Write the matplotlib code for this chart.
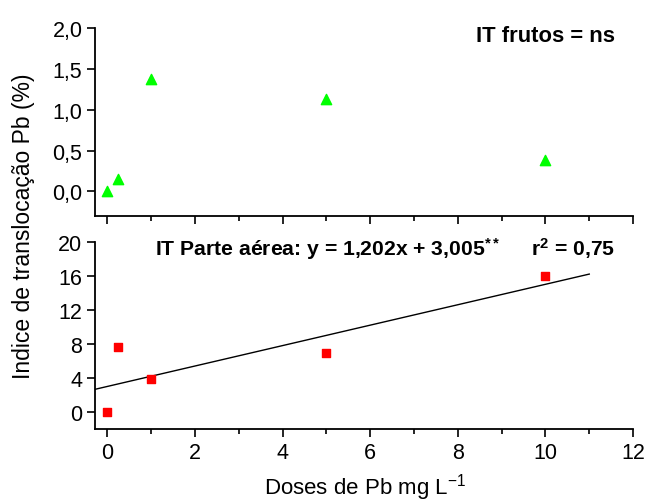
import matplotlib.pyplot as plt
from matplotlib.ticker import MultipleLocator

plt.rcParams['font.family'] = ['Liberation Sans', 'DejaVu Sans']
plt.rcParams['mathtext.default'] = 'regular'

# data
doses = [0, 0.25, 1, 5, 10]
it_frutos = [0.0, 0.15, 1.38, 1.13, 0.39]
it_parte_aerea = [0.0, 7.7, 3.9, 7.0, 16.05]
slope, intercept = 1.202, 3.005
fit_x = [-0.28, 11]

fig = plt.figure(figsize=(6.46, 5.02), dpi=100)
ax1 = fig.add_axes([0.147, 0.5677, 0.833, 0.3745])
ax2 = fig.add_axes([0.147, 0.1434, 0.833, 0.3725])

for ax in (ax1, ax2):
    ax.spines['top'].set_visible(False)
    ax.spines['right'].set_visible(False)
    for s in ('left', 'bottom'):
        ax.spines[s].set_linewidth(1.3)
    ax.set_xlim(-0.28, 12)
    ax.xaxis.set_major_locator(MultipleLocator(2))
    ax.xaxis.set_minor_locator(MultipleLocator(1))
    ax.tick_params(which='major', length=6, width=1.2, labelsize=15.5, direction='out', pad=3)
    ax.tick_params(which='minor', length=3.5, width=1.2, direction='out')

# top panel
ax1.scatter(doses, it_frutos, marker='^', s=55, color='#00ff00', zorder=3)
ax1.set_ylim(-0.3, 2.0)
ax1.yaxis.set_major_locator(MultipleLocator(0.5))
ax1.yaxis.set_major_formatter(plt.FuncFormatter(lambda v, p: f'{v:.1f}'.replace('.', ',')))
ax1.tick_params(axis='x', labelbottom=False)
ax1.text(0.966, 0.96, 'IT frutos = ns', transform=ax1.transAxes, ha='right', va='center',
         fontsize=15.8, fontweight='bold')

# bottom panel
ax2.scatter(doses, it_parte_aerea, marker='s', s=40, color='#ff0000', zorder=3)
ax2.plot(fit_x, [slope * x + intercept for x in fit_x], color='black', linewidth=1)
ax2.set_ylim(-2, 20)
ax2.yaxis.set_major_locator(MultipleLocator(4))
ax2.text(0.966, 0.97, r'IT Parte aérea: y = 1,202x + 3,005$^{**}$     r$^{2}$ = 0,75',
         transform=ax2.transAxes, ha='right', va='center', fontsize=15.2, fontweight='bold')

fig.text(0.036, 0.55, 'Indice de translocação Pb (%)', rotation=90, ha='center', va='center',
         fontsize=16.5)
fig.text(0.565, 0.014, 'Doses de Pb mg L$^{-1}$', ha='center', va='baseline', fontsize=16)

fig.savefig('out.png', dpi=100)
